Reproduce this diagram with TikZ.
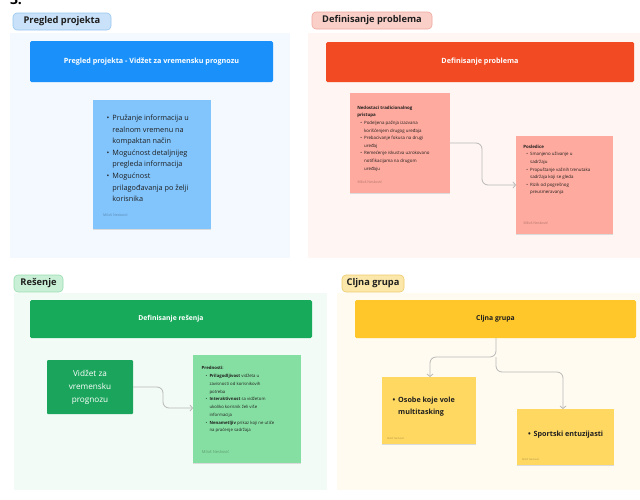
\documentclass[tikz,border=0pt]{standalone}
\usepackage{fontspec}
\setmainfont{Open Sans}
\usetikzlibrary{arrows.meta}
\definecolor{pnlB}{HTML}{F3F9FE}
\definecolor{pnlR}{HTML}{FFF5F3}
\definecolor{pnlG}{HTML}{F2FBF5}
\definecolor{pnlY}{HTML}{FFFBF0}
\definecolor{tagB}{HTML}{C9E2F9}
\definecolor{tagBd}{HTML}{98C6F0}
\definecolor{tagR}{HTML}{F9CFC8}
\definecolor{tagRd}{HTML}{EEA89C}
\definecolor{tagG}{HTML}{C9F0D6}
\definecolor{tagGd}{HTML}{98DDB0}
\definecolor{tagY}{HTML}{FBE7AA}
\definecolor{tagYd}{HTML}{EDCB6A}
\definecolor{barB}{HTML}{1A91FA}
\definecolor{barR}{HTML}{F24A22}
\definecolor{barG}{HTML}{16AA5A}
\definecolor{barY}{HTML}{FFC729}
\definecolor{stB}{HTML}{82C5FD}
\definecolor{stR}{HTML}{FFAA9E}
\definecolor{stG}{HTML}{86DFA2}
\definecolor{stY}{HTML}{FFD862}
\definecolor{boxG}{HTML}{1BA55C}
\definecolor{txtD}{HTML}{1E1E1E}
\definecolor{lineC}{HTML}{B8B8B8}
\newcommand{\fsz}[2]{\fontsize{#1}{#2}\selectfont}
\begin{document}
\begin{tikzpicture}[x=1pt,y=-1pt,
  panel/.style={fill=#1, draw=none, anchor=north west, inner sep=0, outer sep=0},
  tagbox/.style={fill=#1, rounded corners=4, line width=0.6, anchor=north west, inner sep=0, outer sep=0, text=txtD, font=\fsz{9.3}{11}\bfseries},
  bar/.style={fill=#1, draw=none, rounded corners=1.5, anchor=north west, inner sep=0, outer sep=0},
  sticky/.style={fill=#1, draw=none, anchor=north west, inner sep=0, outer sep=0,
     preaction={fill=black!14, transform canvas={yshift=-1pt}}},
  bartxt/.style={text=white, font=\fsz{7.2}{9}\bfseries, inner sep=0},
  txt/.style={anchor=base west, inner sep=0, outer sep=0, align=left},
  author/.style={anchor=base west, inner sep=0, text=black, text opacity=0.3, font=\fsz{3.6}{4}},
  conn/.style={draw=lineC, line width=0.8, rounded corners=6, -{Straight Barb[length=2.5pt,width=6pt]}}
]
\useasboundingbox (0,0) rectangle (640,499);
\fill[white] (0,0) rectangle (640,499);

\node[txt, font=\fsz{14}{16}\bfseries] (mark) at (10,4) {3.};

% ---------- panels
\node[panel=pnlB, minimum width=280, minimum height=225] (pB) at (10,33) {};
\node[panel=pnlR, minimum width=332, minimum height=225] (pR) at (308,33) {};
\node[panel=pnlG, minimum width=313, minimum height=197] (pG) at (14,293) {};
\node[panel=pnlY, minimum width=303, minimum height=197] (pY) at (337,293) {};

% ---------- tags
\node[tagbox=tagB, draw=tagBd, minimum width=98, minimum height=17] (tB) at (13,13) {Pregled projekta};
\node[tagbox=tagR, draw=tagRd, minimum width=120, minimum height=17] (tR) at (312,12) {Definisanje problema};
\node[tagbox=tagG, draw=tagGd, minimum width=49, minimum height=17] (tG) at (14,275) {Rešenje};
\node[tagbox=tagY, draw=tagYd, minimum width=62, minimum height=17] (tY) at (342,275) {Cljna grupa};

% ---------- title bars
\node[bar=barB, minimum width=243, minimum height=41] (bB) at (30,41) {};
\node[bartxt] (bBt) at (bB.center) {Pregled projekta - Vidžet za vremensku prognozu};
\node[bar=barR, minimum width=308, minimum height=40] (bR) at (326,42) {};
\node[bartxt] (bRt) at (bR.center) {Definisanje problema};
\node[bar=barG, minimum width=282, minimum height=38] (bG) at (30,300) {};
\node[bartxt, font=\fsz{6.8}{9}\bfseries] (bGt) at (bG.center) {Definisanje rešenja};
\node[bar=barY, minimum width=281, minimum height=38] (bY) at (355,300) {};
\node[bartxt, text=txtD, font=\fsz{6.8}{9}\bfseries] (bYt) at (bY.center) {Cljna grupa};

% ---------- Pregled projekta sticky
\node[sticky=stB, minimum width=118, minimum height=129] (sB) at (93,100) {};
\node[txt, font=\fsz{7.3}{11.6}, text=txtD] (sBt) at (106.5,120.5) {%
\begin{tabular}[t]{@{}l@{\hspace{3.2pt}}l@{}}
\textbullet & Pružanje informacija u\\
 & realnom vremenu na\\
 & kompaktan način\\
\textbullet & Mogućnost detaljnijeg\\
 & pregleda informacija\\
\textbullet & Mogućnost\\
 & prilagođavanja po želji\\
 & korisnika
\end{tabular}};
\node[author] (sBa) at (103,216) {Miloš Nesković};

% ---------- Definisanje problema stickies
\node[sticky=stR, minimum width=100, minimum height=100] (sR1) at (350,93) {};
\node[txt, font=\fsz{4.4}{7.6}, text=txtD] (sR1t) at (357.3,109.3) {%
\begin{tabular}[t]{@{}l@{\hspace{2.2pt}}l@{}}
\multicolumn{2}{@{}l@{}}{\bfseries Nedostaci tradicionalnog}\\
\multicolumn{2}{@{}l@{}}{\bfseries pristupa}\\
\hspace{3pt}\textbullet & Podeljena pažnja izazvana\\
 & korišćenjem drugog uređaja\\
\hspace{3pt}\textbullet & Prebacivanje fokusa na drugi\\
 & uređaj\\
\hspace{3pt}\textbullet & Remećenje iskustva uzrokovano\\
 & notifikacijama na drugom\\
 & uređaju
\end{tabular}};
\node[author] (sR1a) at (357.3,183.5) {Miloš Nesković};

\node[sticky=stR, minimum width=97, minimum height=98] (sR2) at (516,136) {};
\node[txt, font=\fsz{4.4}{7.6}, text=txtD] (sR2t) at (523.3,148.3) {%
\begin{tabular}[t]{@{}l@{\hspace{2.2pt}}l@{}}
\multicolumn{2}{@{}l@{}}{\bfseries Posledice}\\
\hspace{3pt}\textbullet & Smanjeno uživanje u\\
 & sadržaju\\
\hspace{3pt}\textbullet & Propuštanje važnih trenutaka\\
 & sadržaja koji se gleda\\
\hspace{3pt}\textbullet & Rizik od pogrešnog\\
 & preusmeravanja
\end{tabular}};
\node[author] (sR2a) at (523.3,224.5) {Miloš Nesković};

\draw[conn] (sR1.east |- 0,143) -- (482,143) -- (482,185) -- (sR2.west |- 0,185);

% ---------- Rešenje
\node[bar=boxG, rounded corners=1, minimum width=86, minimum height=54] (vG) at (47,360) {};
\node[inner sep=0, align=center, text=white, font=\fsz{8.2}{13}] (vGt) at (vG.center) {Vidžet za\\vremensku\\prognozu};
\node[sticky=stG, minimum width=108, minimum height=108] (sG) at (193,355) {};
\node[txt, font=\fsz{4.3}{7.75}, text=txtD] (sGt) at (201.7,369.8) {%
\begin{tabular}[t]{@{}l@{\hspace{2.2pt}}l@{}}
\multicolumn{2}{@{}l@{}}{\bfseries Prednosti:}\\
\hspace{4pt}\textbullet & \textbf{Prilagodljivost} vidžeta u\\
 & zavisnosti od korisnikovih\\
 & potreba\\
\hspace{4pt}\textbullet & \textbf{Interaktivnost} sa vidžetom\\
 & ukoliko korisnik želi više\\
 & informacija\\
\hspace{4pt}\textbullet & \textbf{Nenametljiv} prikaz koji ne utiče\\
 & na praćenje sadržaja
\end{tabular}};
\node[author, font=\fsz{4}{5}] (sGa) at (201.7,453.5) {Miloš Nesković};
\draw[conn] (vG.east |- 0,387) -- (163,387) -- (163,408) -- (sG.west |- 0,408);

% ---------- Cljna grupa
\node[sticky=stY, minimum width=94, minimum height=67] (sY1) at (382,377) {};
\node[txt, font=\fsz{7.2}{12.5}\bfseries, text=txtD] (sY1t) at (392.5,402) {%
\begin{tabular}[t]{@{}l@{\hspace{3pt}}l@{}}
\textbullet & Osobe koje vole\\
 & multitasking
\end{tabular}};
\node[author, font=\fsz{2.5}{3}] (sY1a) at (387,439) {Miloš Nesković};
\node[sticky=stY, minimum width=97, minimum height=56] (sY2) at (517,409) {};
\node[txt, font=\fsz{7.2}{12.5}\bfseries, text=txtD] (sY2t) at (528,436) {%
\begin{tabular}[t]{@{}l@{\hspace{3pt}}l@{}}
\textbullet & Sportski entuzijasti
\end{tabular}};
\node[author, font=\fsz{2.5}{3}] (sY2a) at (522,460) {Miloš Nesković};

\coordinate (jY) at (496,357);
\draw[conn] (bY.south -| jY) -- (jY) -- (430,357) -- (sY1.north -| 430,0);
\draw[conn] (jY) -- (496,372) -- (563,372) -- (sY2.north -| 563,0);
\end{tikzpicture}
\end{document}
